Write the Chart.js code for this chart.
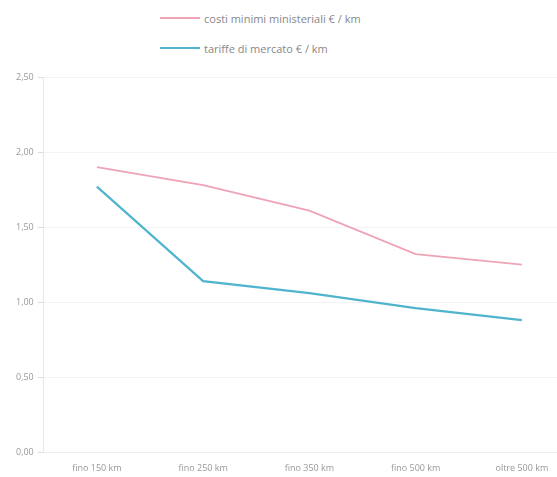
<!DOCTYPE html>
<html>
<head>
<meta charset="utf-8">
<script src="https://cdn.jsdelivr.net/npm/chart.js@4"></script>
<style>
  body { margin: 0; background: #fff; font-family: "Open Sans", sans-serif; overflow: hidden; }
  #wrap { position: relative; width: 557px; height: 477px; overflow: hidden; }
  #legend { position: absolute; left: 160px; top: 3px; font-size: 11px; color: #888; }
  .row { height: 30px; display: flex; align-items: center; }
  .row span.line { display: inline-block; width: 40px; height: 2px; margin-right: 4px; }
  #box { position: absolute; left: 0; top: 60px; width: 575px; height: 417px; }
</style>
</head>
<body>
<div id="wrap">
  <div id="legend"></div>
  <div id="box"><canvas id="chart"></canvas></div>
</div>
<script>
const categories = ['fino 150 km', 'fino 250 km', 'fino 350 km', 'fino 500 km', 'oltre 500 km'];
const costiMinimi = [1.90, 1.78, 1.61, 1.32, 1.25];
const tariffeMercato = [1.77, 1.14, 1.06, 0.96, 0.88];
const seriesNames = ['costi minimi ministeriali € / km', 'tariffe di mercato € / km'];
const seriesColors = ['#eea3b6', '#4fb4cc'];

document.addEventListener('DOMContentLoaded', () => {
    // legenda su due righe, allineata a sinistra
    const legend = document.getElementById('legend');
    seriesNames.forEach((name, i) => {
        const row = document.createElement('div');
        row.className = 'row';
        row.innerHTML = `<span class="line" style="background:${seriesColors[i]}"></span>${name}`;
        legend.appendChild(row);
    });

    const ctx = document.getElementById('chart').getContext('2d');
    new Chart(ctx, {
        type: 'line',
        data: {
            labels: categories,
            datasets: [{
                label: seriesNames[0],
                data: costiMinimi,
                borderColor: seriesColors[0],
                borderWidth: 1.8,
                pointRadius: 0,
                tension: 0
            }, {
                label: seriesNames[1],
                data: tariffeMercato,
                borderColor: seriesColors[1],
                borderWidth: 2.2,
                pointRadius: 0,
                tension: 0
            }]
        },
        options: {
            responsive: true,
            maintainAspectRatio: false,
            animation: false,
            layout: { padding: { top: 17, right: 0, left: 12, bottom: 0 } },
            plugins: {
                legend: { display: false },
                tooltip: { enabled: false }
            },
            scales: {
                x: {
                    offset: true,
                    grid: { display: false },
                    border: { color: '#eeeeee' },
                    ticks: { color: '#999', font: { family: 'Open Sans', size: 9 }, maxRotation: 0 }
                },
                y: {
                    min: 0,
                    max: 2.5,
                    ticks: {
                        stepSize: 0.5,
                        padding: 4,
                        color: '#999',
                        font: { family: 'Open Sans', size: 9 },
                        callback: v => v.toFixed(2).replace('.', ',')
                    },
                    grid: { color: '#f3f3f3', tickColor: '#dddddd', tickLength: 6 },
                    border: { color: '#e6e6e6' }
                }
            }
        }
    });
});
</script>
</body>
</html>
